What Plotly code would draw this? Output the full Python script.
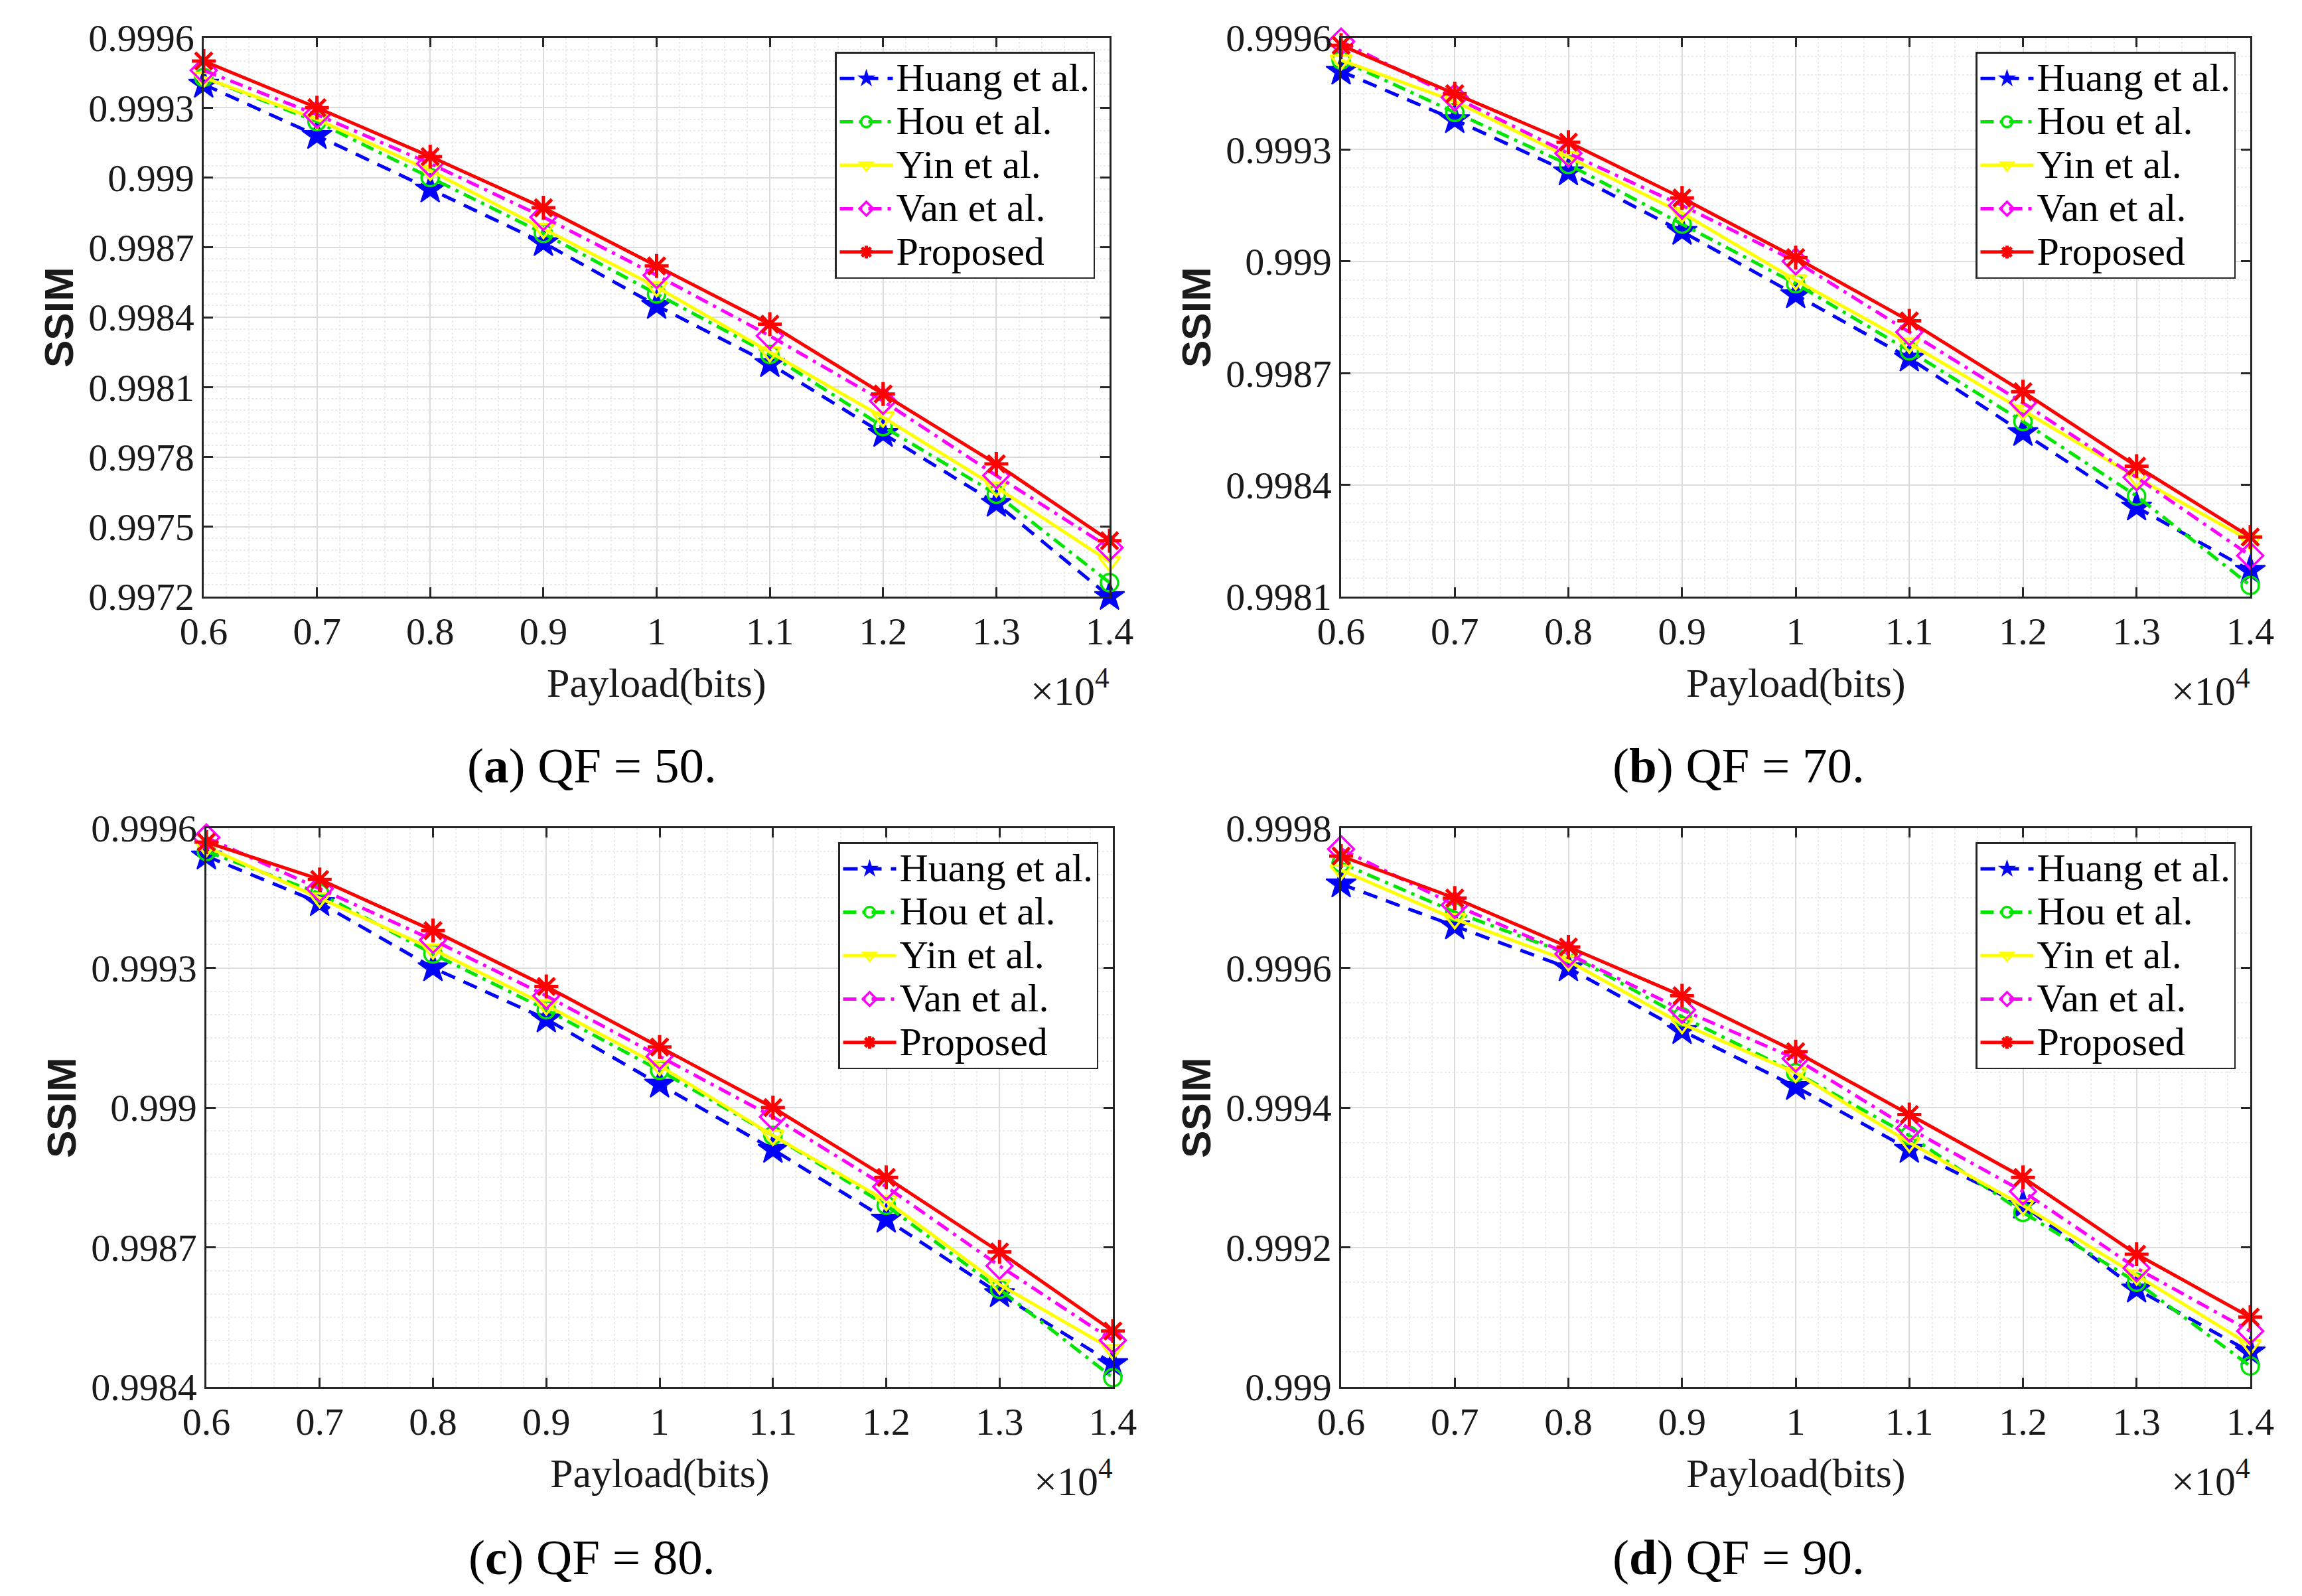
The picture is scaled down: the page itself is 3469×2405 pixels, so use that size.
import plotly.graph_objects as go

# ---------------- data ----------------
payload = [6000, 7000, 8000, 9000, 10000, 11000, 12000, 13000, 14000]
x_tick_labels = ["0.6", "0.7", "0.8", "0.9", "1", "1.1", "1.2", "1.3", "1.4"]
methods = ["Huang et al.", "Hou et al.", "Yin et al.", "Van et al.", "Proposed"]

# QF = 50
huang_qf50 = [0.99940, 0.99918, 0.99895, 0.99872, 0.99845, 0.99820, 0.99790, 0.99760, 0.99720]
hou_qf50 = [0.99943, 0.99924, 0.99900, 0.99876, 0.99850, 0.99824, 0.99793, 0.99764, 0.99726]
yin_qf50 = [0.99943, 0.99925, 0.99903, 0.99878, 0.99853, 0.99825, 0.99797, 0.99767, 0.99735]
van_qf50 = [0.99946, 0.99927, 0.99906, 0.99883, 0.99858, 0.99832, 0.99804, 0.99772, 0.99741]
prop_qf50 = [0.99950, 0.99930, 0.99909, 0.99887, 0.99862, 0.99837, 0.99807, 0.99777, 0.99744]

# QF = 70
huang_qf70 = [0.99951, 0.99938, 0.99924, 0.99908, 0.99891, 0.99874, 0.99854, 0.99834, 0.99817]
hou_qf70 = [0.99954, 0.99940, 0.99926, 0.99910, 0.99894, 0.99876, 0.99857, 0.99837, 0.99813]
yin_qf70 = [0.99954, 0.99943, 0.99928, 0.99913, 0.99895, 0.99878, 0.99860, 0.99842, 0.99825]
van_qf70 = [0.99959, 0.99944, 0.99929, 0.99915, 0.99900, 0.99881, 0.99862, 0.99842, 0.99821]
prop_qf70 = [0.99958, 0.99945, 0.99932, 0.99917, 0.99901, 0.99884, 0.99865, 0.99845, 0.99826]

# QF = 80
huang_qf80 = [0.99954, 0.99944, 0.99930, 0.99919, 0.99905, 0.99891, 0.99876, 0.99860, 0.99845]
hou_qf80 = [0.99955, 0.99946, 0.99933, 0.99921, 0.99908, 0.99894, 0.99879, 0.99861, 0.99842]
yin_qf80 = [0.99956, 0.99945, 0.99934, 0.99922, 0.99909, 0.99894, 0.99880, 0.99862, 0.99848]
van_qf80 = [0.99958, 0.99947, 0.99936, 0.99924, 0.99911, 0.99898, 0.99883, 0.99866, 0.99850]
prop_qf80 = [0.99957, 0.99949, 0.99938, 0.99926, 0.99913, 0.99900, 0.99885, 0.99869, 0.99852]

# QF = 90
huang_qf90 = [0.99972, 0.99966, 0.99960, 0.99951, 0.99943, 0.99934, 0.99926, 0.99914, 0.99905]
hou_qf90 = [0.99975, 0.99968, 0.99962, 0.99953, 0.99945, 0.99936, 0.99925, 0.99915, 0.99903]
yin_qf90 = [0.99974, 0.99967, 0.99961, 0.99952, 0.99945, 0.99935, 0.99926, 0.99916, 0.99906]
van_qf90 = [0.99977, 0.99969, 0.99962, 0.99954, 0.99947, 0.99937, 0.99928, 0.99917, 0.99908]
prop_qf90 = [0.99976, 0.99970, 0.99963, 0.99956, 0.99948, 0.99939, 0.99930, 0.99919, 0.99910]

# y-axis ticks per panel
yticks_qf50 = [0.9972, 0.9975, 0.9978, 0.9981, 0.9984, 0.9987, 0.9990, 0.9993, 0.9996]
ylabels_qf50 = ["0.9972", "0.9975", "0.9978", "0.9981", "0.9984", "0.9987", "0.999", "0.9993", "0.9996"]
yticks_qf70 = [0.9981, 0.9984, 0.9987, 0.9990, 0.9993, 0.9996]
ylabels_qf70 = ["0.9981", "0.9984", "0.9987", "0.999", "0.9993", "0.9996"]
yticks_qf80 = [0.9984, 0.9987, 0.9990, 0.9993, 0.9996]
ylabels_qf80 = ["0.9984", "0.9987", "0.999", "0.9993", "0.9996"]
yticks_qf90 = [0.9990, 0.9992, 0.9994, 0.9996, 0.9998]
ylabels_qf90 = ["0.999", "0.9992", "0.9994", "0.9996", "0.9998"]

captions = ["(<b>a</b>) QF = 50.", "(<b>b</b>) QF = 70.", "(<b>c</b>) QF = 80.", "(<b>d</b>) QF = 90."]

# ---------------- style / layout ----------------
W, H = 3469, 2405
SERIF = "Liberation Serif, Times New Roman, serif"
SANS = "Liberation Sans, Arial, sans-serif"
AX = "#262626"

styles = [
    dict(color="#0000FF", dash="22px,14px", symbol="star", msize=34, mlw=2),
    dict(color="#00E600", dash="20px,9px,5px,9px", symbol="circle-open", msize=26, mlw=3.5),
    dict(color="#FFFF00", dash="solid", symbol="triangle-down-open", msize=28, mlw=3.5),
    dict(color="#FF00FF", dash="20px,9px,5px,9px", symbol="diamond-open", msize=30, mlw=3.5),
    dict(color="#FF0000", dash="solid", symbol="asterisk-open", msize=30, mlw=5),
]

panels = [
    dict(series=[huang_qf50, hou_qf50, yin_qf50, van_qf50, prop_qf50],
         yt=yticks_qf50, yl=ylabels_qf50, box=(307, 1672, 57, 899), cap=(892, 1153)),
    dict(series=[huang_qf70, hou_qf70, yin_qf70, van_qf70, prop_qf70],
         yt=yticks_qf70, yl=ylabels_qf70, box=(2021, 3391, 57, 899), cap=(2620, 1153)),
    dict(series=[huang_qf80, hou_qf80, yin_qf80, van_qf80, prop_qf80],
         yt=yticks_qf80, yl=ylabels_qf80, box=(311, 1677, 1248, 2090), cap=(892, 2346)),
    dict(series=[huang_qf90, hou_qf90, yin_qf90, van_qf90, prop_qf90],
         yt=yticks_qf90, yl=ylabels_qf90, box=(2021, 3391, 1248, 2090), cap=(2620, 2346)),
]

fig = go.Figure()
annotations = []
layout_upd = {}

for i, p in enumerate(panels):
    n = "" if i == 0 else str(i + 1)
    xa, ya = "x" + n, "y" + n
    leg = "legend" + n
    x0, x1, y0, y1 = p["box"]
    for m, vals, st in zip(methods, p["series"], styles):
        fig.add_trace(go.Scatter(
            x=payload, y=vals, name="<span style='font-size:60px'>" + m + "</span>",
            mode="lines+markers",
            xaxis=xa, yaxis=ya, legend=leg, cliponaxis=False,
            line=dict(color=st["color"], width=5, dash=st["dash"]),
            marker=dict(symbol=st["symbol"], size=st["msize"], color=st["color"],
                        line=dict(color=st["color"], width=st["mlw"])),
        ))
    common = dict(
        showline=True, linecolor=AX, linewidth=2.5, mirror="allticks",
        ticks="inside", ticklen=14, tickwidth=2.5, tickcolor=AX,
        showgrid=True, gridcolor="#DCDCDC", gridwidth=2,
        zeroline=False, automargin=False,
        tickfont=dict(family=SERIF, size=58, color="#1a1a1a"),
    )
    layout_upd["xaxis" + n] = dict(
        common, domain=[x0 / W, x1 / W], anchor=ya, range=[6000, 14000],
        tickvals=payload, ticktext=x_tick_labels,
        minor=dict(dtick=200, tick0=6000, showgrid=True, gridcolor="#EBEBEB",
                   griddash="dot", gridwidth=1.5, ticks=""),
    )
    layout_upd["yaxis" + n] = dict(
        common, domain=[1 - y1 / H, 1 - y0 / H], anchor=xa,
        range=[p["yt"][0], p["yt"][-1]],
        tickvals=p["yt"], ticktext=p["yl"],
        minor=dict(dtick=0.00005, tick0=p["yt"][0], showgrid=True, gridcolor="#EBEBEB",
                   griddash="dot", gridwidth=1.5, ticks=""),
    )
    layout_upd[leg] = dict(
        x=(x1 - 22) / W, y=1 - (y0 + 21) / H, xanchor="right", yanchor="top",
        bgcolor="white", bordercolor=AX, borderwidth=2.5,
        font=dict(family=SERIF, size=48, color="black"),
        itemwidth=80, tracegroupgap=0,
    )
    annotations.append(dict(
        text="Payload(bits)", xref="paper", yref="paper",
        x=(x0 + x1) / 2 / W, y=1 - (y1 + 130) / H, xanchor="center", yanchor="middle",
        showarrow=False, font=dict(family=SERIF, size=62, color="#1a1a1a")))
    annotations.append(dict(
        text="\u00d710<sup>4</sup>", xref="paper", yref="paper",
        x=(x1 + 2) / W, y=1 - (y1 + 137) / H, xanchor="right", yanchor="middle",
        showarrow=False, font=dict(family=SERIF, size=62, color="#1a1a1a")))
    annotations.append(dict(
        text="<b>SSIM</b>", xref="paper", yref="paper", textangle=-90,
        x=(x0 - 219) / W, y=1 - (y0 + y1) / 2 / H, xanchor="center", yanchor="middle",
        showarrow=False, font=dict(family=SANS, size=62, color="#1a1a1a")))
    annotations.append(dict(
        text=captions[i], xref="paper", yref="paper",
        x=p["cap"][0] / W, y=1 - p["cap"][1] / H, xanchor="center", yanchor="middle",
        showarrow=False, font=dict(family=SERIF, size=75, color="black")))

fig.update_layout(
    width=W, height=H, autosize=False,
    margin=dict(l=0, r=0, t=0, b=0, pad=0, autoexpand=False),
    paper_bgcolor="white", plot_bgcolor="white",
    annotations=annotations,
    **layout_upd,
)

fig.write_html("out.html", config={"displayModeBar": False},
               post_script="document.body.style.margin='0';document.body.style.overflow='hidden';")
